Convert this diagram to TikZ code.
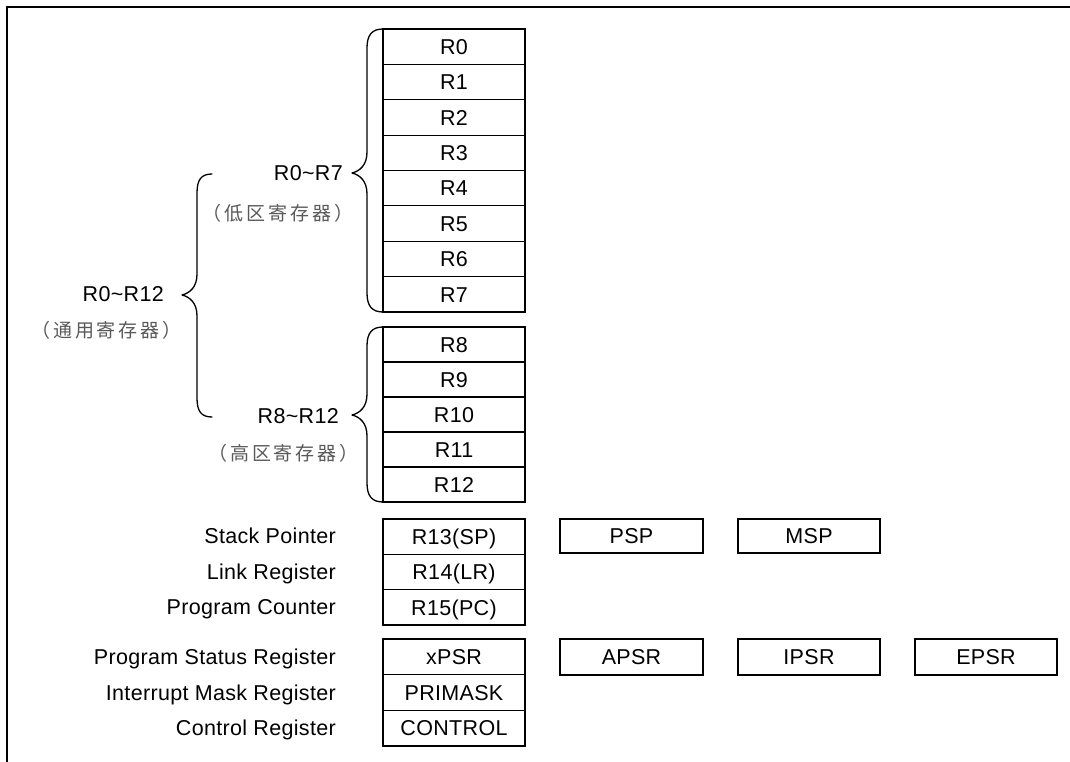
\documentclass[tikz,border=0pt]{standalone}
\usepackage{fontspec}
\setmainfont{Liberation Sans}[LetterSpace=1.5]
\newfontfamily\cjk{Noto Sans CJK SC}[LetterSpace=15]
\definecolor{cjkgray}{gray}{0.35}
\begin{document}
\begin{tikzpicture}[x=1pt,y=-1pt,
  txt/.style={font=\fontsize{21.5}{25}\selectfont, text height=15.4pt, text depth=0pt},
  reg/.style={txt, draw, line width=1.2pt, minimum width=142pt, inner sep=0pt},
  lbl/.style={txt, anchor=east, inner sep=0pt},
  rng/.style={txt, inner sep=0pt},
  zh/.style={inner sep=0pt, text=cjkgray, font=\cjk\fontsize{19}{22}\selectfont},
  bracel/.style={line width=1.3pt, line cap=round, line join=round},
  frame/.style={line width=2pt}]
\useasboundingbox (0,0) rectangle (1070,762);
% frame (top and left only)
\draw[frame] (7,762) -- (7,7) -- (1070,7);
% R0-R7
\foreach \i in {0,...,7}
  \node[reg, minimum height=35.375pt] (r\i) at (454,{46.7+\i*35.375}) {R\i};
% R8-R12
\foreach \i in {8,...,12}
  \node[reg, minimum height=35pt] (r\i) at (454,{344.5+(\i-8)*35}) {R\i};
% SP LR PC
\node[reg, minimum height=35.33pt] (r13) at (454,536.7) {R13(SP)};
\node[reg, minimum height=35.33pt] (r14) at (454,572) {R14(LR)};
\node[reg, minimum height=35.33pt] (r15) at (454,607.3) {R15(PC)};
% PSR group
\node[reg, minimum height=35.67pt] (xpsr) at (454,656.8) {xPSR};
\node[reg, minimum height=35.67pt] (primask) at (454,692.5) {PRIMASK};
\node[reg, minimum height=35.67pt] (control) at (454,728.2) {CONTROL};
% side boxes
\node[reg, minimum width=143pt, minimum height=34pt] (psp) at (631.5,536) {PSP};
\node[reg, minimum height=34pt] (msp) at (809,536) {MSP};
\node[reg, minimum width=143pt, minimum height=36pt] (apsr) at (631.5,657) {APSR};
\node[reg, minimum height=36pt] (ipsr) at (809,657) {IPSR};
\node[reg, minimum height=36pt] (epsr) at (986,657) {EPSR};
% left labels
\node[lbl] (lsp) at (336,536) {Stack Pointer};
\node[lbl] (llr) at (336,571.5) {Link Register};
\node[lbl] (lpc) at (336,607) {Program Counter};
\node[lbl] (lpsr) at (336,657) {Program Status Register};
\node[lbl] (lim) at (336,692.5) {Interrupt Mask Register};
\node[lbl] (lcr) at (336,728) {Control Register};
% range labels
\node[rng, anchor=east] (t07) at (343,173) {R0\char`\~R7};
\node[zh] (z07) at (278,213) {（低区寄存器）};
\node[rng, anchor=east] (t812) at (339,416) {R8\char`\~R12};
\node[zh] (z812) at (283.5,453) {（高区寄存器）};
\node[rng, anchor=east] (t012) at (164,294) {R0\char`\~R12};
\node[zh] (z012) at (106.5,330) {（通用寄存器）};
% braces
\draw[bracel] (383,29) .. controls (372,29) and (367,35) .. (367,48)
  -- (367,152) .. controls (367,165) and (360,171) .. (352,173)
  .. controls (360,175) and (367,181) .. (367,194)
  -- (367,293) .. controls (367,306) and (372,312) .. (383,312);
\draw[bracel] (383,327) .. controls (372,327) and (367,333) .. (367,346)
  -- (367,394) .. controls (367,407) and (360,413) .. (352,415)
  .. controls (360,417) and (367,423) .. (367,436)
  -- (367,483) .. controls (367,496) and (372,502) .. (383,502);
\draw[bracel] (212,174) .. controls (201,174) and (197,180) .. (197,193)
  -- (197,274) .. controls (197,287) and (190,293) .. (182,295)
  .. controls (190,297) and (197,303) .. (197,316)
  -- (197,398) .. controls (197,411) and (201,417) .. (212,417);
\end{tikzpicture}
\end{document}
